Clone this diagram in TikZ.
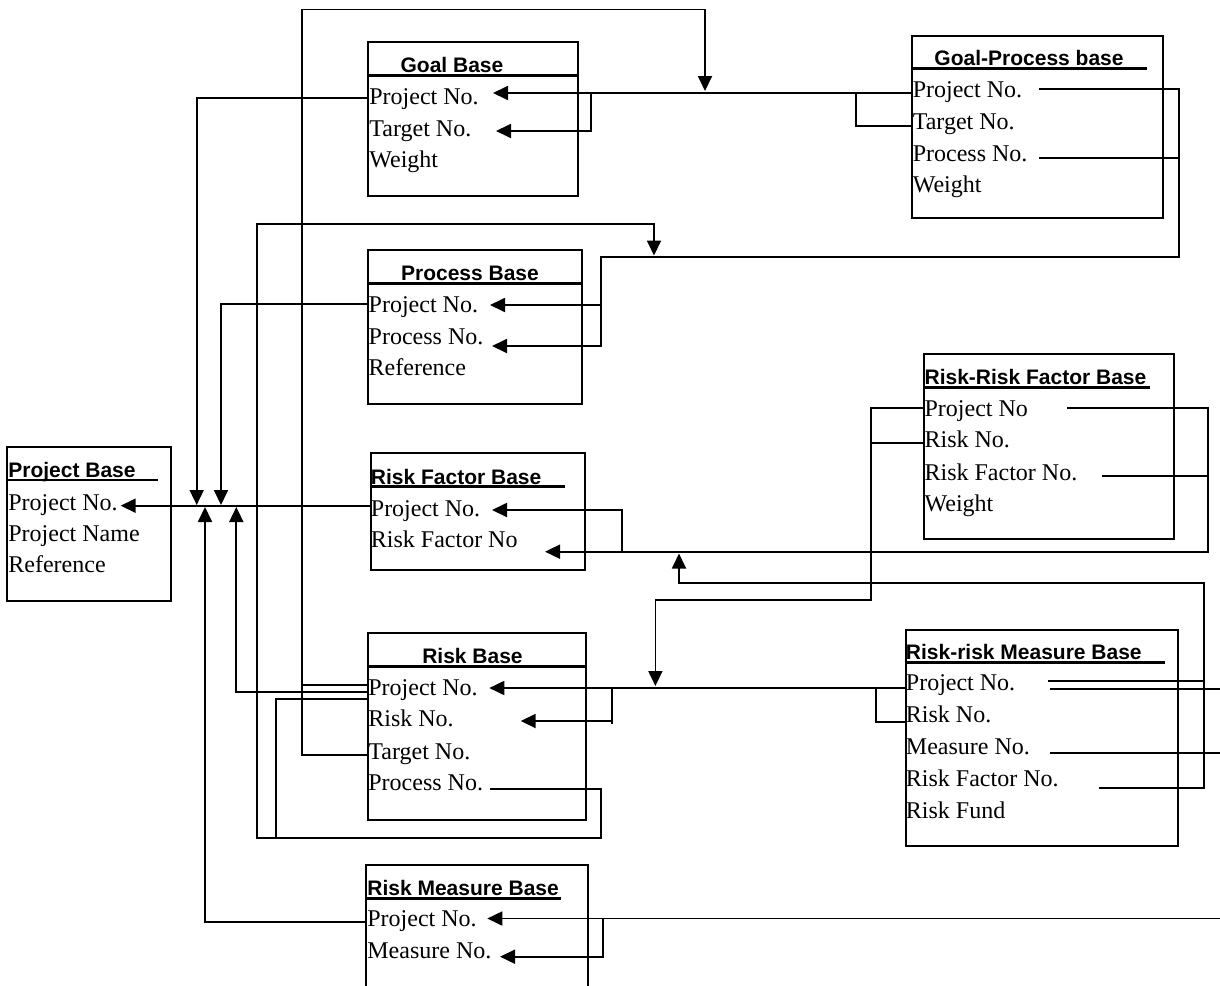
\documentclass[tikz,border=0pt]{standalone}
\usepackage{fontspec}
\setmainfont{Liberation Serif}
\setsansfont{Liberation Sans}
\usetikzlibrary{arrows.meta}
\newcommand{\fieldfont}{\fontsize{12}{14}\selectfont}
\newcommand{\titlefont}{\sffamily\bfseries\fontsize{10.5}{12}\selectfont}

\begin{document}
\begin{tikzpicture}[x=0.5pt,y=-0.5pt,
  tbl/.style={draw, line width=1pt, anchor=north west, inner sep=0pt},
  fld/.style={anchor=base west, inner sep=0pt, font=\fieldfont},
  ttl/.style={anchor=base, inner sep=0pt, font=\titlefont},
  ttlw/.style={ttl, anchor=base west},
  hdr/.style={line width=1.4pt},
  lnk/.style={line width=0.9pt},
  arr/.style={lnk, -{Triangle[length=7.5pt,width=7pt]}}]
  \useasboundingbox (0,0) rectangle (1220,985);
  \clip (0,0) rectangle (1220,985);

  % Goal Base
  \node[tbl, minimum width=105pt, minimum height=77pt] (goal) at (367,41) {};
  \node[ttl] (goalT) at (452,72.3) {Goal Base};
  \draw[hdr] (367,75.7) -- (577,75.7);
  \node[fld] (goalP) at (369,104) {Project No.};
  \node[fld] (goalTg) at (369,136) {Target No.};
  \node[fld] (goalW) at (369,167.7) {Weight};

  % Goal-Process base
  \node[tbl, minimum width=125.25pt, minimum height=91.15pt] (gp) at (911,35) {};
  \node[ttl] (gpT) at (1029,65) {Goal-Process base};
  \draw[hdr] (911,68.3) -- (1147,68.3);
  \node[fld] (gpP) at (912.4,97.3) {Project No.};
  \node[fld] (gpTg) at (912.4,129) {Target No.};
  \node[fld] (gpPr) at (912.4,161) {Process No.};
  \node[fld] (gpW) at (912.4,192.3) {Weight};

  % Process Base
  \node[tbl, minimum width=107pt, minimum height=77.15pt] (proc) at (367,249) {};
  \node[ttl] (procT) at (470,280) {Process Base};
  \draw[hdr] (367,283.3) -- (581,283.3);
  \node[fld] (procP) at (368.3,312.3) {Project No.};
  \node[fld] (procPr) at (368.3,344) {Process No.};
  \node[fld] (procR) at (368.3,375.7) {Reference};

  % Project Base
  \node[tbl, minimum width=82pt, minimum height=77pt] (proj) at (6,446) {};
  \node[ttlw] (projT) at (8,477.3) {Project Base};
  \draw[hdr] (8,480) -- (158,480);
  \node[fld] (projP) at (8,510.7) {Project No.};
  \node[fld] (projN) at (8,541.7) {Project Name};
  \node[fld] (projR) at (8,572.7) {Reference};

  % Risk Factor Base
  \node[tbl, minimum width=107.2pt, minimum height=58.5pt] (rf) at (370,452.3) {};
  \node[ttlw] (rfT) at (370.5,484) {Risk Factor Base};
  \draw[hdr] (370,486.7) -- (565,486.7);
  \node[fld] (rfP) at (370.5,516.7) {Project No.};
  \node[fld] (rfF) at (370.5,547.3) {Risk Factor No};

  % Risk-Risk Factor Base
  \node[tbl, minimum width=125pt, minimum height=92.2pt] (rrf) at (923.4,353.3) {};
  \node[ttlw] (rrfT) at (924.2,384.3) {Risk-Risk Factor Base};
  \draw[hdr] (923.4,387.7) -- (1150,387.7);
  \node[fld] (rrfP) at (924.2,416) {Project No};
  \node[fld] (rrfR) at (924.2,447.7) {Risk No.};
  \node[fld] (rrfF) at (924.2,480) {Risk Factor No.};
  \node[fld] (rrfW) at (924.2,511.7) {Weight};

  % Risk Base
  \node[tbl, minimum width=109pt, minimum height=93.35pt] (rb) at (367,632.3) {};
  \node[ttl] (rbT) at (472.5,663.3) {Risk Base};
  \draw[hdr] (367,666.7) -- (585,666.7);
  \node[fld] (rbP) at (368,695.7) {Project No.};
  \node[fld] (rbR) at (368,726.7) {Risk No.};
  \node[fld] (rbTg) at (368,759) {Target No.};
  \node[fld] (rbPr) at (368,790.7) {Process No.};

  % Risk-risk Measure Base
  \node[tbl, minimum width=136.4pt, minimum height=107.85pt] (rrm) at (904.5,629.3) {};
  \node[ttlw] (rrmT) at (905.5,659.3) {Risk-risk Measure Base};
  \draw[hdr] (904.5,662.3) -- (1165,662.3);
  \node[fld] (rrmP) at (905.5,690.7) {Project No.};
  \node[fld] (rrmR) at (905.5,722.7) {Risk No.};
  \node[fld] (rrmM) at (905.5,754.3) {Measure No.};
  \node[fld] (rrmF) at (905.5,786) {Risk Factor No.};
  \node[fld] (rrmU) at (905.5,818.3) {Risk Fund};

  % Risk Measure Base
  \node[tbl, minimum width=111.15pt, minimum height=75pt] (rm) at (365,864.3) {};
  \node[ttlw] (rmT) at (367,895) {Risk Measure Base};
  \draw[hdr] (367,898.3) -- (561,898.3);
  \node[fld] (rmP) at (367,926.7) {Project No.};
  \node[fld] (rmM) at (367,958.3) {Measure No.};

  % ports
  \coordinate (goalPw) at (367,97.7);
  \coordinate (goalPin) at (493,93);
  \coordinate (goalTin) at (496,131);
  \coordinate (gpPw) at (911,93);
  \coordinate (gpTw) at (911,126);
  \coordinate (gpPe) at (1039,89);
  \coordinate (gpPre) at (1039,157.7);
  \coordinate (procPw) at (367,304.3);
  \coordinate (procPin) at (490,305);
  \coordinate (procPrin) at (492,346);
  \coordinate (projPin) at (120.6,505.7);
  \coordinate (rfPw) at (370,505.7);
  \coordinate (rfPin) at (492,510);
  \coordinate (rfFin) at (545,551.7);
  \coordinate (rrfPw) at (923.4,407.7);
  \coordinate (rrfRw) at (923.4,443.3);
  \coordinate (rrfPe) at (1067,407.7);
  \coordinate (rrfFe) at (1102,476);
  \coordinate (rbPw1) at (367,685);
  \coordinate (rbPw2) at (367,692.3);
  \coordinate (rbPw3) at (367,699);
  \coordinate (rbTgw) at (367,755);
  \coordinate (rbPre) at (490,789);
  \coordinate (rbPin) at (489.3,688);
  \coordinate (rbRin) at (520.7,721);
  \coordinate (rrmPw) at (904.5,688);
  \coordinate (rrmRw) at (904.5,721.7);
  \coordinate (rrmPe1) at (1048,680.7);
  \coordinate (rrmPe2) at (1049.6,689);
  \coordinate (rrmMe) at (1049.6,753.3);
  \coordinate (rrmFe) at (1099,788.3);
  \coordinate (rmPw) at (365,921.7);
  \coordinate (rmPin) at (487.3,918.5);
  \coordinate (rmMin) at (500,956.7);
  \coordinate (edgeP) at (1220,689);
  \coordinate (edgeM) at (1220,753.3);
  \coordinate (edgeR) at (1220,918.5);

  % links to Goal Base and Goal-Process base
  \draw[arr] (rbTgw) -| (301.7,9.5) -| (705,91);
  \draw[arr] (gpPw) -- (goalPin);
  \draw[arr] (591,93) |- (goalTin);
  \draw[lnk] (gpTw) -| (856,93);
  \draw[arr] (goalPw) -| (196.7,505);

  % links to Process Base
  \draw[arr] (gpPe) -| (1179,257.3) -| (601,346) -- (procPrin);
  \draw[arr] (601,305) -- (procPin);
  \draw[lnk] (gpPre) -- (1179,157.7);
  \draw[arr] (rbPre) -| (601,838.3) -| (256.7,224) -| (654,255.5);
  \draw[arr] (procPw) -| (221,505);

  % links to Project Base and Risk Factor Base
  \draw[arr] (rfPw) -- (projPin);
  \draw[arr] (rrfPe) -| (1208,551.7) -- (rfFin);
  \draw[arr] (621.7,551.7) |- (rfPin);
  \draw[lnk] (rrfFe) -- (1208,476);
  \draw[arr] (rrmFe) -| (1204,583.3) -| (679,553.5);
  \draw[lnk] (rrmPe1) -- (1204,680.7);

  % links to Risk Base
  \draw[arr] (rrfPw) -| (871,600) -| (655.4,686);
  \draw[lnk] (rrfRw) -- (871,443.3);
  \draw[arr] (rrmPw) -- (rbPin);
  \draw[lnk] (rrmRw) -| (875.6,688);
  \draw[lnk] (611.7,688) -- (611.7,724);
  \draw[arr] (611.7,721) -- (rbRin);
  \draw[lnk] (rrmPe2) -- (edgeP);
  \draw[lnk] (rrmMe) -- (edgeM);
  \draw[lnk] (rbPw1) -- (301.7,685);
  \draw[arr] (rbPw2) -| (236.3,507);
  \draw[lnk] (rbPw3) -| (275.7,838.3);

  % links to Risk Measure Base
  \draw[arr] (rmPw) -| (205,507);
  \draw[arr] (edgeR) -- (rmPin);
  \draw[arr] (603.3,918.5) |- (rmMin);
\end{tikzpicture}
\end{document}
